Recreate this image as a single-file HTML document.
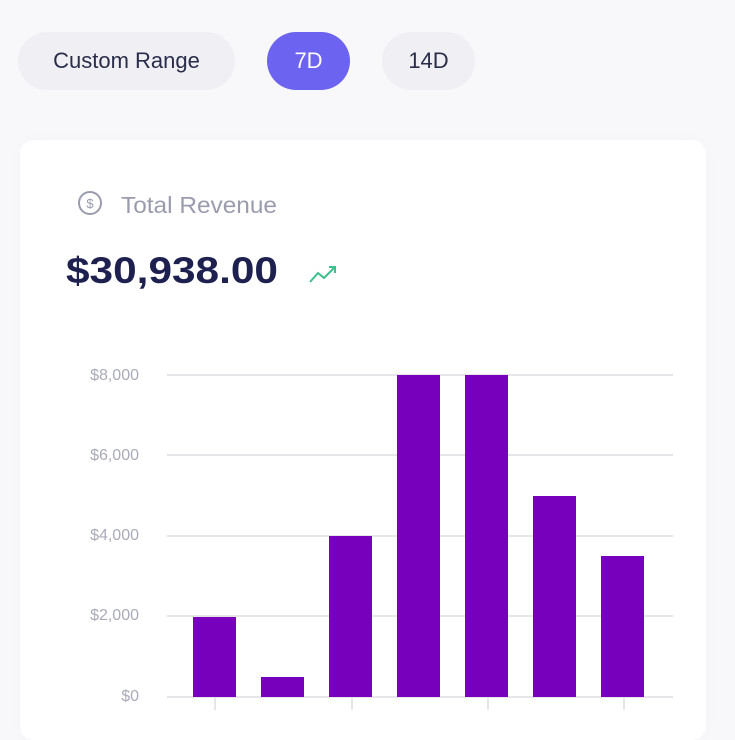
<!DOCTYPE html>
<html><head><style>
body{margin:0;width:735px;height:720px;background:#f8f8fa;font-family:"Liberation Sans",sans-serif;overflow:hidden;position:relative}
.pill{position:absolute;top:32px;height:58px;border-radius:29px;background:#f0f0f4;color:#2a2d4a;font-size:22px;line-height:58px;text-align:center}
.card{position:absolute;left:20px;top:140px;width:686px;height:600px;background:#fff;border-radius:14px;box-shadow:0 0 20px rgba(0,0,0,0.02)}
</style></head><body>
<div class="pill" style="left:18px;width:217px">Custom Range</div>
<div class="pill" style="left:267px;width:83px;background:#6c63f0;color:#fff">7D</div>
<div class="pill" style="left:382px;width:93px">14D</div>
<div class="card"></div>
<svg width="735" height="720" style="position:absolute;left:0;top:0">
<circle cx="90" cy="203" r="11" fill="none" stroke="#9a9cae" stroke-width="2"/>
<text x="90" y="208" font-size="13" fill="#9a9cae" text-anchor="middle" font-family="Liberation Sans">$</text>
<text x="121" y="213" font-size="23" fill="#9a9cae" font-family="Liberation Sans" textLength="156" lengthAdjust="spacingAndGlyphs">Total Revenue</text>
<text x="66" y="283" font-size="37" font-weight="bold" fill="#1e2150" font-family="Liberation Sans" textLength="212" lengthAdjust="spacingAndGlyphs">$30,938.00</text>
<polyline points="310,282 318,273 324,278 335,267" fill="none" stroke="#3cbf8f" stroke-width="2"/>
<polyline points="329,267 335,267 335,273" fill="none" stroke="#3cbf8f" stroke-width="2"/>
<g stroke="#e6e6ea" stroke-width="2">
<line x1="167" y1="375" x2="673" y2="375"/><line x1="167" y1="455" x2="673" y2="455"/>
<line x1="167" y1="536" x2="673" y2="536"/><line x1="167" y1="616" x2="673" y2="616"/>
<line x1="167" y1="697" x2="673" y2="697"/>
<line x1="215" y1="697" x2="215" y2="710"/><line x1="352" y1="697" x2="352" y2="710"/>
<line x1="488" y1="697" x2="488" y2="710"/><line x1="624" y1="697" x2="624" y2="710"/>
</g>
<g font-size="16" fill="#a9abb8" text-anchor="end" font-family="Liberation Sans">
<text x="139" y="380">$8,000</text><text x="139" y="460">$6,000</text>
<text x="139" y="540">$4,000</text><text x="139" y="620">$2,000</text><text x="139" y="701">$0</text>
</g>
<g fill="#7600bc">
<rect x="193" y="617" width="43" height="80"/>
<rect x="261" y="677" width="43" height="20"/>
<rect x="329" y="536" width="43" height="161"/>
<rect x="397" y="375" width="43" height="322"/>
<rect x="465" y="375" width="43" height="322"/>
<rect x="533" y="496" width="43" height="201"/>
<rect x="601" y="556" width="43" height="141"/>
</g>
</svg>
</body></html>
